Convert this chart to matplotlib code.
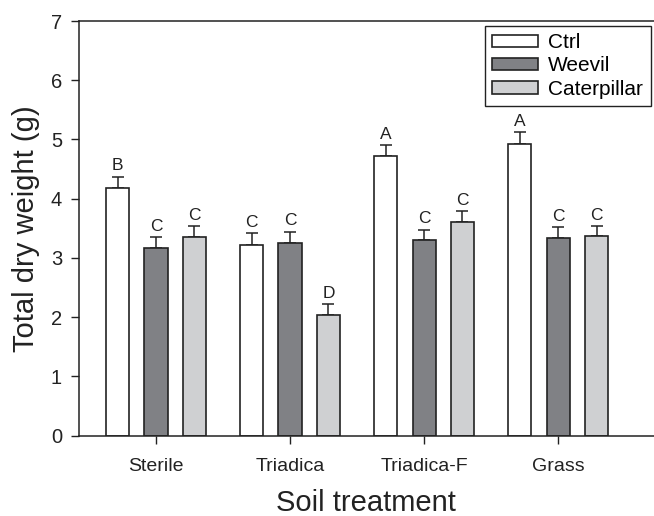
import numpy as np
import matplotlib
matplotlib.use("Agg")
import matplotlib.pyplot as plt

plt.rcParams['font.family'] = ['Liberation Sans', 'DejaVu Sans']

soils = ["Sterile", "Triadica", "Triadica-F", "Grass"]
series = ["Ctrl", "Weevil", "Caterpillar"]
means = {
    "Ctrl": [4.18, 3.22, 4.72, 4.93],
    "Weevil": [3.16, 3.25, 3.30, 3.34],
    "Caterpillar": [3.35, 2.03, 3.60, 3.37],
}
errs = {
    "Ctrl": [0.19, 0.20, 0.18, 0.19],
    "Weevil": [0.19, 0.19, 0.18, 0.18],
    "Caterpillar": [0.19, 0.19, 0.19, 0.17],
}
letters = {
    "Ctrl": ["B", "C", "A", "A"],
    "Weevil": ["C", "C", "C", "C"],
    "Caterpillar": ["C", "D", "C", "C"],
}
colors = {"Ctrl": "white", "Weevil": "#808185", "Caterpillar": "#cfd0d2"}

fig = plt.figure(figsize=(6.54, 5.16), dpi=100)
ax = fig.add_axes([0.1203, 0.1556, 0.8797, 0.8037])

x = np.arange(len(soils))
offset = 0.287
width = 0.172
for i, s in enumerate(series):
    xs = x + (i - 1) * offset
    ax.bar(xs, means[s], width, color=colors[s], edgecolor="#222222",
           linewidth=1.2, label=s, zorder=2)
    ax.errorbar(xs, means[s], yerr=[np.zeros(len(soils)), errs[s]],
                fmt="none", ecolor="#222222", elinewidth=1.1,
                capsize=4.3, capthick=1.1, zorder=1)
    for xi, m, e, lt in zip(xs, means[s], errs[s], letters[s]):
        ax.annotate(lt, (xi, m + e), xytext=(0, 2.5), textcoords="offset points",
                    ha="center", va="bottom", fontsize=12.5, color="#222222")

ax.set_xlim(-0.577, 3.716)
ax.set_ylim(0, 7)
ax.set_xticks(x)
ax.set_xticklabels(soils, fontsize=14)
ax.set_yticks(range(8))
ax.tick_params(axis="y", labelsize=14.5, length=6, width=1, colors="#222222", pad=6)
ax.tick_params(axis="x", length=6, width=1, colors="#222222", pad=10)
ax.spines["right"].set_visible(False)
for sp in ["left", "top", "bottom"]:
    ax.spines[sp].set_linewidth(1.1)
    ax.spines[sp].set_color("#222222")

ax.set_ylabel("Total dry weight (g)", fontsize=21, color="#222222", labelpad=8)
ax.set_xlabel("Soil treatment", fontsize=21, color="#222222", labelpad=10)

leg = ax.legend(loc="upper right", bbox_to_anchor=(0.994, 0.988), borderaxespad=0,
                fontsize=15, fancybox=False, edgecolor="#222222", framealpha=1,
                handlelength=2.2, handleheight=0.55, labelspacing=0.2,
                handletextpad=0.5, borderpad=0.35)
leg.get_frame().set_linewidth(1.0)

fig.savefig("out.png", dpi=100)
